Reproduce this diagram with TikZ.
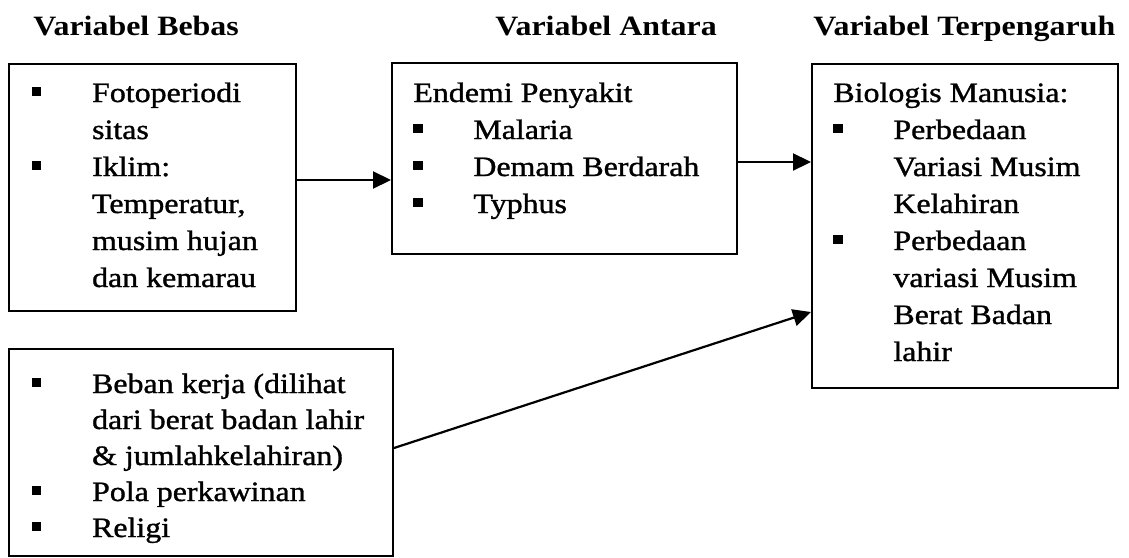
\documentclass[tikz,border=0pt]{standalone}
\usepackage{fontspec}
\setmainfont{Liberation Serif}[FakeStretch=1.14,UprightFeatures={FakeBold=1.2}]
\usetikzlibrary{arrows.meta}
\newcommand\myblt{\makebox[30pt][l]{\rule[3.2pt]{4.6pt}{4.5pt}}}
\newcommand\myind{\makebox[30pt]{}}
\begin{document}
\begin{tikzpicture}[x=0.5pt,y=-0.5pt,
  box/.style={draw,line width=1pt,rectangle,inner sep=0pt,anchor=north west},
  txt/.style={anchor=base west,inner sep=0pt,font=\fontsize{14}{18.5}\selectfont},
  txtb/.style={anchor=base west,inner sep=0pt,font=\fontsize{14}{18}\selectfont},
  ttl/.style={anchor=base west,inner sep=0pt,font=\fontsize{14}{18.5}\selectfont\bfseries},
  arr/.style={line width=1.1pt,-{Triangle[length=9pt,width=8.5pt]}}]
\useasboundingbox (0,0) rectangle (1129,557);
% titles
\node[ttl] (t1) at (33,35) {Variabel Bebas};
\node[ttl] (t2) at (495,35) {Variabel Antara};
\node[ttl] (t3) at (813,35) {Variabel Terpengaruh};
% boxes
\node[box,minimum width=143.5pt,minimum height=123.5pt] (box1) at (8,63) {};
\node[box,minimum width=172.5pt,minimum height=95.5pt] (box2) at (391,62) {};
\node[box,minimum width=153pt,minimum height=162pt] (box3) at (811,63) {};
\node[box,minimum width=192pt,minimum height=103.5pt] (box4) at (8,348) {};
% texts
\node[txt] (x1) at (31.7,102) {\parbox[t]{150pt}{\raggedright
\myblt Fotoperiodi\\
\myind sitas\\
\myblt Iklim:\\
\myind Temperatur,\\
\myind musim hujan\\
\myind dan kemarau}};
\node[txt] (x2) at (413,102) {\parbox[t]{170pt}{\raggedright
Endemi Penyakit\\
\myblt Malaria\\
\myblt Demam Berdarah\\
\myblt Typhus}};
\node[txt] (x3) at (833,102) {\parbox[t]{150pt}{\raggedright
Biologis Manusia:\\
\myblt Perbedaan\\
\myind Variasi Musim\\
\myind Kelahiran\\
\myblt Perbedaan\\
\myind variasi Musim\\
\myind Berat Badan\\
\myind lahir}};
\node[txtb] (x4) at (31.7,393) {\parbox[t]{190pt}{\raggedright
\myblt Beban kerja (dilihat\\
\myind dari berat badan lahir\\
\myind \& jumlahkelahiran)\\
\myblt Pola perkawinan\\
\myblt Religi}};
% arrows
\draw[arr] ([yshift=3.75pt]box1.east) coordinate (a1s) -- (a1s -| box2.west);
\draw[arr] ([yshift=-1.75pt]box2.east) coordinate (a2s) -- (a2s -| box3.west);
\draw[arr] ([yshift=2.25pt]box4.east) -- ([yshift=-43pt]box3.west);
\end{tikzpicture}
\end{document}
